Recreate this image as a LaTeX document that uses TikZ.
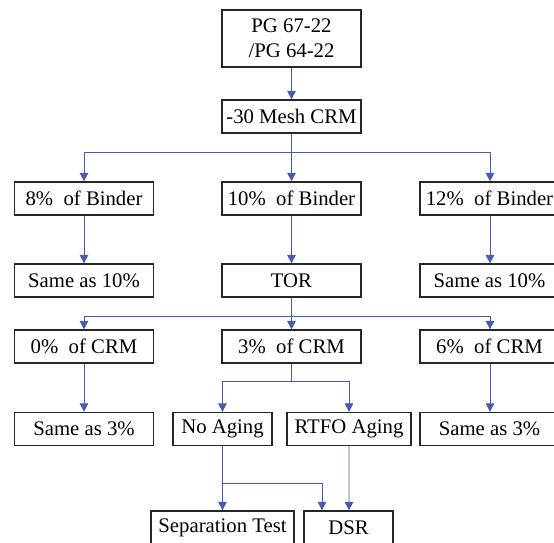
\documentclass[tikz,border=0pt]{standalone}
\usepackage{fontspec}
\setmainfont{Liberation Serif}
\usetikzlibrary{arrows.meta}
\definecolor{linkblue}{RGB}{72,90,178}

\begin{document}
\begin{tikzpicture}
\tikzstyle{stage}=[rectangle,draw=black!85,line width=0.7pt,minimum width=2.78cm,minimum height=0.66cm,inner sep=1pt,font=\fontsize{11.8}{14.2}\selectfont]
\tikzstyle{link}=[draw=linkblue,line width=0.55pt]
\tikzstyle{flow}=[link,-{Triangle[width=0.17cm,length=0.17cm]}]
\useasboundingbox (0,0) rectangle (11.08,10.86);
\node [stage,minimum height=1.14cm,align=center] (binder) at (5.83,10.09) {PG 67-22\\/PG 64-22};
\node [stage] (mesh) at (5.83,8.53) {-30 Mesh CRM};
\node [stage] (b8) at (1.68,6.89) {8\%\ \ of Binder};
\node [stage] (b10) at (5.83,6.89) {10\%\ \ of Binder};
\node [stage] (b12) at (9.79,6.89) {12\%\ \ of Binder};
\node [stage] (same8) at (1.68,5.25) {Same as 10\%};
\node [stage] (tor) at (5.83,5.25) {TOR};
\node [stage] (same12) at (9.79,5.25) {Same as 10\%};
\node [stage] (c0) at (1.68,3.93) {0\%\ \ of CRM};
\node [stage] (c3) at (5.83,3.93) {3\%\ \ of CRM};
\node [stage] (c6) at (9.79,3.93) {6\%\ \ of CRM};
\node [stage] (same0) at (1.68,2.28) {Same as 3\%};
\node [stage,minimum width=1.98cm] (noage) at (4.45,2.28) {No Aging};
\node [stage,minimum width=2.48cm] (rtfo) at (6.98,2.28) {RTFO Aging};
\node [stage] (same6) at (9.79,2.28) {Same as 3\%};
\node [stage,minimum width=2.86cm] (sep) at (4.45,0.31) {Separation Test};
\node [stage,minimum width=1.78cm] (dsr) at (6.97,0.31) {DSR};
% junctions
\coordinate (jmesh) at (5.83,7.82);
\coordinate (jtor) at (5.83,4.54);
\coordinate (jcrm) at (5.83,3.24);
\coordinate (jage) at (4.45,1.20);
\draw [flow] (binder) -- (mesh);
\draw [link] (mesh) -- (jmesh);
\draw [flow] (jmesh) -| (b8.north);
\draw [flow] (jmesh) -- (b10);
\draw [flow] (jmesh) -| ([xshift=0.01cm]b12.north);
\draw [flow] (b8) -- (same8);
\draw [flow] (b10) -- (tor);
\draw [flow] ([xshift=0.01cm]b12.south) -- ([xshift=0.01cm]same12.north);
\draw [link] (tor) -- (jtor);
\draw [flow] (jtor) -| (c0.north);
\draw [flow] (jtor) -- (c3);
\draw [flow] (jtor) -| ([xshift=0.01cm]c6.north);
\draw [flow] (c0) -- (same0);
\draw [flow] ([xshift=0.01cm]c6.south) -- ([xshift=0.01cm]same6.north);
\draw [link] (c3) -- (jcrm);
\draw [flow] (jcrm) -| (noage.north);
\draw [flow] (jcrm) -| (rtfo.north);
\draw [flow] (noage) -- (sep);
\draw [flow] (jage) -| ([xshift=-0.53cm]dsr.north);
\draw [flow] (rtfo.south) -- ([xshift=0.01cm]dsr.north);
\end{tikzpicture}
\end{document}
